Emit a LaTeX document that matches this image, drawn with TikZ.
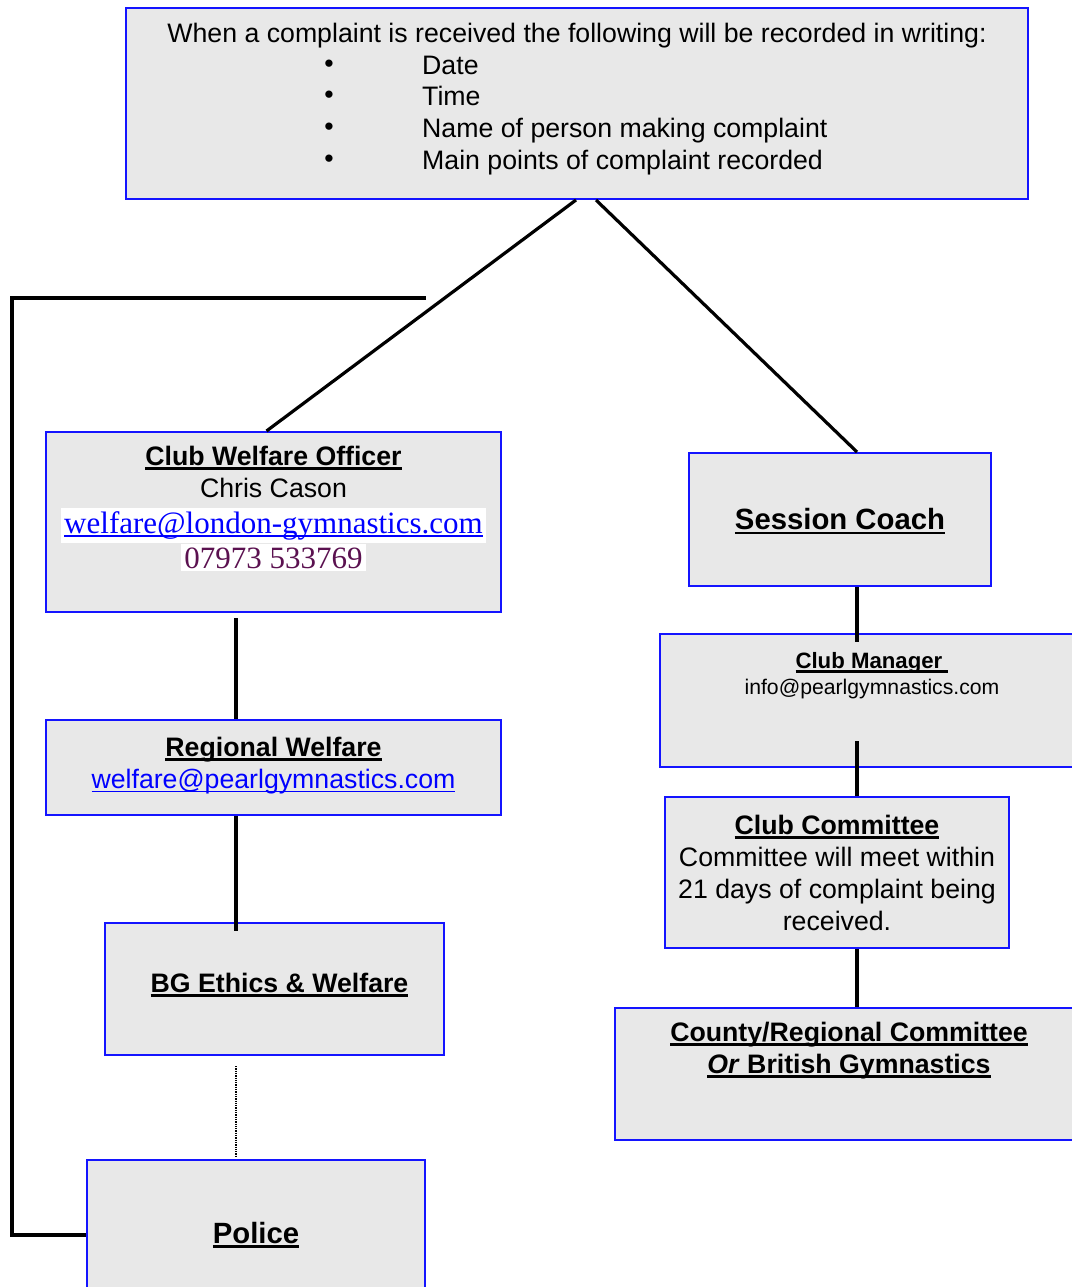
\documentclass[tikz,border=0pt]{standalone}
\usepackage{fontspec}
\setmainfont{Liberation Sans}
\newfontfamily\mailserif{Liberation Serif}
\usetikzlibrary{positioning,calc}

\definecolor{boxblue}{HTML}{1414FF}
\definecolor{boxgrey}{HTML}{E8E8E8}
\definecolor{phonepurple}{HTML}{5B1150}

% underlines for headings and links
\newcommand{\hdul}[1]{\leavevmode\setbox0=\hbox{#1}\rlap{\rule[-4.5pt]{\wd0}{2.6pt}}\box0}
\newcommand{\linkul}[1]{\leavevmode\setbox0=\hbox{#1}\rlap{\rule[-4pt]{\wd0}{1.6pt}}\box0}

\tikzset{
  box/.style={draw=boxblue,line width=2pt,fill=boxgrey,rectangle,inner sep=0pt,anchor=north west},
  txt/.style={align=center,inner sep=0pt,font=\fontsize{26.7}{32}\selectfont},
  serif/.style={inner sep=0pt,anchor=base,font=\mailserif\fontsize{31}{35}\selectfont},
  link/.style={line width=4.5pt},
  diag/.style={line width=3.2pt},
}

\begin{document}
\begin{tikzpicture}[x=1pt,y=-1pt]
  \useasboundingbox (0,0) rectangle (1071,1287);

  % boxes
  \node[box,minimum width=902,minimum height=191] (rec) at (125,7) {};
  \node[box,minimum width=455,minimum height=180] (cwo) at (45,431) {};
  \node[box,minimum width=302,minimum height=133] (sc) at (688,452) {};
  \node[box,minimum width=424,minimum height=133] (cm) at (659,633) {};
  \node[box,minimum width=455,minimum height=95] (rw) at (45,719) {};
  \node[box,minimum width=344,minimum height=151] (cc) at (664,796) {};
  \node[box,minimum width=339,minimum height=132] (bg) at (104,922) {};
  \node[box,minimum width=468,minimum height=132] (cty) at (614,1007) {};
  \node[box,minimum width=338,minimum height=150] (pol) at (86,1159) {};

  % texts
  \node[txt,anchor=base] (rechead) at ([yshift=-36]rec.north)
    {When a complaint is received the following will be recorded in writing:};
  \foreach \txtline [count=\i] in {Date,Time,Name of person making complaint,Main points of complaint recorded} {
    \node[txt,anchor=base] (dot\i) at (329,43+\i*31.5) {\raisebox{2pt}{\textbullet}};
    \node[txt,anchor=base west] (item\i) at (422,43+\i*31.5) {\txtline};
  }
  \node[txt,anchor=north] (cwotxt) at ([yshift=-15]cwo.north)
    {\textbf{\hdul{Club Welfare Officer}}\\
     Chris Cason};
  \node[serif] (cwomail) at ([yshift=-102]cwo.north)
    {\setlength{\fboxsep}{3pt}\colorbox{white}{\color{blue}\linkul{welfare@london-gymnastics.com}}};
  \node[serif] (cwophone) at ([yshift=-137]cwo.north)
    {\setlength{\fboxsep}{3pt}\colorbox{white}{\color{phonepurple}07973 533769}};
  \node[txt,font=\bfseries\fontsize{29.3}{34}\selectfont] (sctxt) at ([yshift=-2]sc.center) {\hdul{Session Coach}};
  \node[txt,anchor=north] (cmtxt) at ([yshift=-19]cm.north)
    {{\bfseries\fontsize{22.2}{26}\selectfont\hdul{Club Manager\ }}\\[-6pt]
     {\fontsize{21.2}{26}\selectfont info@pearlgymnastics.com}};
  \node[txt] (rwtxt) at ([yshift=2]rw.center)
    {\textbf{\hdul{Regional Welfare}}\\
     {\color{blue}\linkul{welfare@pearlgymnastics.com}}};
  \node[txt] (cctxt) at (cc.center)
    {\textbf{\hdul{Club Committee}}\\
     Committee will meet within\\
     21 days of complaint being\\
     received.};
  \node[txt,font=\bfseries\fontsize{26.7}{32}\selectfont] (bgtxt) at ([xshift=5,yshift=4]bg.center) {\hdul{BG Ethics \& Welfare}};
  \node[txt,anchor=north] (ctytxt) at ([yshift=-15]cty.north)
    {\textbf{\hdul{County/Regional Committee}}\\
     \textbf{\hdul{\textit{Or} British Gymnastics}}};
  \node[txt,font=\bfseries\fontsize{29.3}{34}\selectfont] (poltxt) at (pol.center) {\hdul{Police}};

  % connectors
  \coordinate (lspine) at (236,0);
  \coordinate (rspine) at (857,0);
  \coordinate (loopend) at (426,298);
  \coordinate (loopcorner) at (12,298);
  \draw[diag] ([xshift=-1]rec.south) -- ([xshift=-7]cwo.north);
  \draw[diag] ([xshift=19]rec.south) -- (rspine |- sc.north);
  \draw[link] ([yshift=-5]lspine |- cwo.south) -- (lspine |- rw.north);
  \draw[link] (lspine |- rw.south) -- ([yshift=-9]lspine |- bg.north);
  \draw[densely dotted,line width=1.3pt] ([yshift=-10]lspine |- bg.south) -- ([yshift=2]lspine |- pol.north);
  \draw[link] (rspine |- sc.south) -- ([yshift=-9]rspine |- cm.north);
  \draw[link] ([yshift=27]rspine |- cm.south) -- (rspine |- cc.north);
  \draw[link] (rspine |- cc.south) -- (rspine |- cty.north);
  \draw[link] (loopend) -- (loopcorner) -- (loopcorner |- pol.west) -- (pol.west);
\end{tikzpicture}
\end{document}
